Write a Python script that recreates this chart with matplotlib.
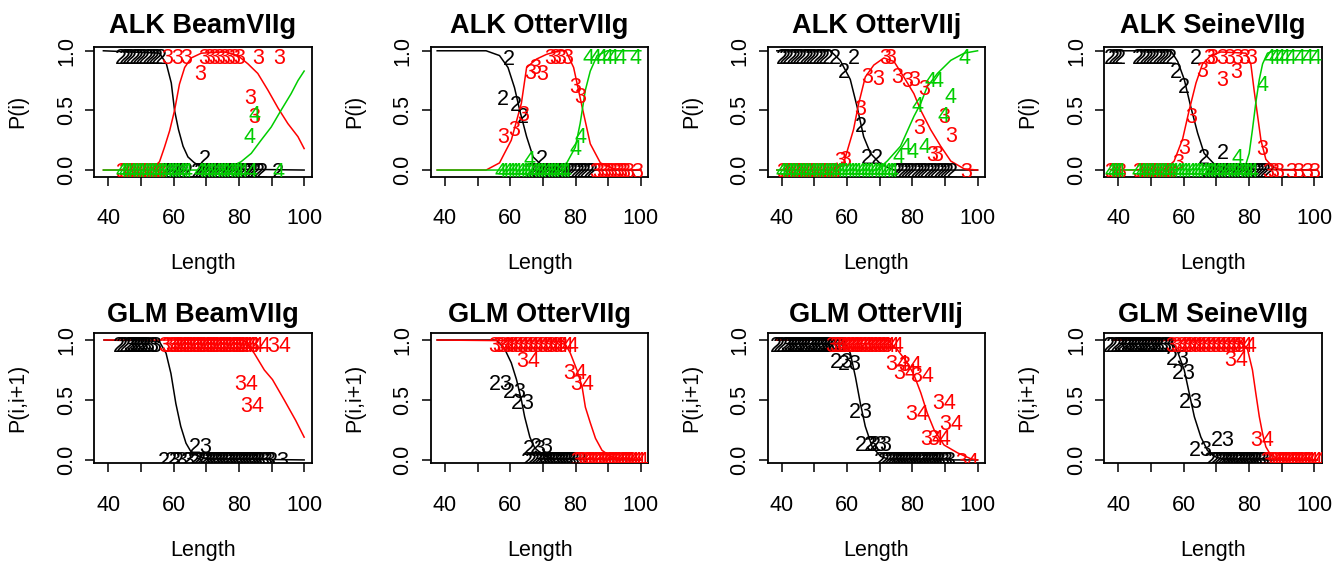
import matplotlib.pyplot as plt

plt.rcParams['font.family'] = ['Liberation Sans', 'DejaVu Sans']

BLACK = 'black'
RED = '#FF0000'
GREEN = '#00CD00'

# ---------------- ALK BeamVIIg ----------------
ab_c2_x = [38.5, 55.7, 57.8, 59.3, 60.3, 61.5, 62.9, 64.4, 66.4, 68.5, 71.5, 100]
ab_c2_y = [1.0, 0.98, 0.89, 0.73, 0.5, 0.34, 0.2, 0.11, 0.06, 0.03, 0.01, 0.0]
ab_c3_x = [38.5, 53, 54.2, 55.7, 57.2, 58.8, 60.3, 61.8, 63.4, 65.4, 68.5, 75.6, 79.7,
           82.8, 85.8, 88.9, 92, 95, 98.1, 100]
ab_c3_y = [0, 0, 0.03, 0.07, 0.19, 0.33, 0.5, 0.72, 0.86, 0.94, 0.98, 0.99, 0.96,
           0.89, 0.81, 0.67, 0.52, 0.39, 0.28, 0.18]
ab_c4_x = [38.5, 75, 77.7, 80.7, 83.8, 86.8, 89.9, 92.9, 96, 98.1, 100]
ab_c4_y = [0, 0, 0.03, 0.07, 0.14, 0.25, 0.36, 0.5, 0.64, 0.75, 0.83]
ab2_top = [44, 45, 46, 47, 48, 49, 50, 51, 52, 53, 54, 55, 56]
ab2_bot = [57, 58, 59, 60, 61, 62, 63, 64, 67, 68, 69, 70, 71, 72, 73, 74, 75, 76, 77,
           78, 79, 80, 81, 82, 83, 84, 85, 86, 87, 92]
ab2_px, ab2_py = [69.6], [0.11]
ab3_top = [58, 61, 64, 69.5, 71, 72.5, 74, 75.5, 77, 78.5, 80, 86, 92.5]
ab3_bot = [44, 45, 46, 47, 48, 49, 50, 51, 52, 53, 54, 55, 56]
ab3_px, ab3_py = [68, 83.4, 84.8], [0.82, 0.625, 0.46]
ab4_top = []
ab4_bot = [44, 45, 46, 47, 48, 49, 50, 51, 52, 53, 54, 55, 56, 57, 58, 59, 60, 61, 62,
           63, 64, 68, 69, 70, 71, 72, 73, 74, 75, 76, 77, 78, 79, 80, 81, 84, 92]
ab4_px, ab4_py = [84.8, 83.4], [0.48, 0.29]

# ---------------- ALK OtterVIIg ----------------
ao_c2_x = [37.6, 52.6, 56.7, 59.3, 61.3, 62.9, 65, 67, 70, 75, 100]
ao_c2_y = [1, 1, 0.96, 0.86, 0.69, 0.5, 0.28, 0.11, 0.03, 0, 0]
ao_c3_x = [37.6, 52.6, 56.7, 60.3, 63.4, 65, 68, 71.1, 75, 77, 79.4, 82, 84.5, 87.6,
           91.8, 100]
ao_c3_y = [0, 0, 0.06, 0.25, 0.56, 0.86, 0.93, 0.97, 1, 1, 0.86, 0.53, 0.22, 0.06,
           0.01, 0]
ao_c4_x = [37.6, 73.2, 77.3, 79.9, 81.4, 83, 84.5, 86.6, 89.7, 100]
ao_c4_y = [0, 0, 0.06, 0.19, 0.39, 0.67, 0.83, 0.96, 1, 1]
ao2_top = []
ao2_bot = [66, 67, 68, 69, 70, 71, 72, 73, 74, 75, 76, 77, 78, 79, 80, 81, 82, 83, 84, 85]
ao2_px = [59.6, 57.7, 61.6, 63.9, 69.6]
ao2_py = [0.95, 0.61, 0.56, 0.46, 0.11]
ao3_top = [72.2, 73.7, 75.3, 77.3]
ao3_bot = [86, 87, 88, 89, 90, 91, 92, 93, 94, 95, 96, 99]
ao3_px = [57.7, 61.3, 64.1, 66, 67.5, 69.9, 79.9, 81.4]
ao3_py = [0.29, 0.35, 0.48, 0.83, 0.875, 0.82, 0.71, 0.63]
ao4_top = [84, 86, 88, 89.7, 91.2, 93.8, 98.5]
ao4_bot = [57, 58, 59, 60, 61, 62, 63, 64, 65, 66, 67, 68, 69, 70, 71, 72, 73, 74, 75,
           76, 77]
ao4_px, ao4_py = [66, 79.9, 81.4], [0.105, 0.19, 0.29]

# ---------------- ALK OtterVIIj ----------------
aj_c2_x = [38.5, 54.9, 57.9, 61, 63.1, 65.1, 67.2, 70.3, 74.4, 100]
aj_c2_y = [1, 1, 0.92, 0.76, 0.53, 0.28, 0.14, 0.05, 0, 0]
aj_c3_x = [38.5, 54.9, 59, 62, 63.6, 65.6, 68.2, 71.3, 74.4, 77.4, 80.5, 82.6, 85.6,
           88.7, 91.8, 95.9, 100]
aj_c3_y = [0, 0, 0.06, 0.34, 0.56, 0.78, 0.88, 0.94, 0.91, 0.78, 0.64, 0.5, 0.34, 0.2,
           0.075, 0.01, 0]
aj_c4_x = [38.5, 69.2, 72.3, 76.4, 80.5, 82.6, 84.6, 87.7, 91.8, 95.9, 100]
aj_c4_y = [0, 0, 0.075, 0.2, 0.45, 0.56, 0.7, 0.81, 0.92, 0.98, 1]
aj2_top = [40, 41, 42, 43, 44, 45, 46, 47, 48, 49, 50, 51, 52, 53, 54, 56.4, 62]
aj2_bot = [75, 76, 77, 78, 79, 80, 81, 82, 83, 84, 85, 86, 87, 88, 89, 90, 91, 92]
aj2_px, aj2_py = [59, 64.1, 66.2, 69.2], [0.84, 0.39, 0.12, 0.12]
aj3_top = [71.8, 73.3]
aj3_bot = [40, 41, 42, 43, 44, 45, 46, 47, 48, 49, 50, 51, 52, 53, 54, 55, 56]
aj3_px = [64.1, 66.2, 69.7, 75.4, 78.5, 80.5, 83.6, 82.1, 89.7, 91.8, 86.2, 87.7, 57.9,
          59.5, 96.4]
aj3_py = [0.53, 0.8, 0.78, 0.8, 0.76, 0.77, 0.7, 0.37, 0.46, 0.3, 0.14, 0.14, 0.09,
          0.1, 0.0]
aj4_top = [95.9]
aj4_bot = [40, 41, 42, 43, 44, 45, 46, 47, 48, 49, 50, 51, 52, 53, 54, 55, 56, 57, 58,
           59, 60, 61, 62, 63, 64, 65, 66, 67, 68, 69, 70, 71, 72, 73, 74]
aj4_px = [81.5, 85.6, 87.7, 91.8, 89.7, 75.9, 77.9, 80, 83.6]
aj4_py = [0.55, 0.76, 0.76, 0.63, 0.47, 0.13, 0.21, 0.17, 0.21]

# ---------------- ALK SeineVIIg ----------------
as_c2_x = [38, 56.1, 58.2, 60.2, 62.2, 64.3, 66.3, 69.4, 73.5, 101]
as_c2_y = [1, 1, 0.91, 0.76, 0.53, 0.31, 0.14, 0.05, 0.01, 0]
as_c3_x = [38, 54.1, 57.1, 59.7, 61.7, 63.8, 65.8, 68.4, 71.4, 79.1, 80.6, 81.6, 82.7,
           83.7, 85.2, 87.2, 89.8, 101]
as_c3_y = [0, 0, 0.075, 0.26, 0.5, 0.73, 0.89, 0.96, 0.99, 0.98, 0.89, 0.67, 0.45, 0.25,
           0.09, 0.03, 0, 0]
as_c4_x = [38, 77.6, 79.1, 80.1, 81.1, 82.1, 83.2, 84.2, 85.7, 87.8, 101]
as_c4_y = [0, 0.01, 0.05, 0.14, 0.34, 0.56, 0.76, 0.89, 0.98, 1, 1]
as2_top = [37.5, 38.5, 39.5, 40.5, 46, 47, 48, 49, 50, 51, 52, 53, 54, 55, 56, 63.8]
as2_bot = [67, 68, 69, 70, 71, 72, 73, 74, 75, 76, 77, 78, 79, 80, 81, 82, 83, 84, 85, 86]
as2_px, as2_py = [57.7, 60.2, 66.3, 71.9], [0.84, 0.71, 0.12, 0.16]
as3_top = [67.9, 68.9, 71.9, 74, 76.5, 78.6, 80.6]
as3_bot = [37.5, 38.5, 39.5, 40.5, 46, 47, 48, 49, 50, 51, 52, 53, 54, 55, 56, 86, 87.5,
           89, 93, 95, 98, 100]
as3_px = [65.8, 71.9, 76, 62.2, 60.2, 58.2, 84.2]
as3_py = [0.85, 0.77, 0.84, 0.46, 0.2, 0.075, 0.19]
as4_top = [86.2, 87.8, 89.3, 90.8, 92.9, 95.4, 98, 100.5]
as4_bot = [37.5, 38.5, 39.5, 40.5, 46, 47, 48, 49, 50, 51, 52, 53, 54, 55, 56, 57, 58,
           59, 60, 61, 62, 63, 64, 65, 66, 67, 68, 69, 70, 71, 72, 73, 74, 75, 76, 77,
           78, 79, 80, 81]
as4_px, as4_py = [84.2, 76.5], [0.73, 0.12]

# ---------------- GLM BeamVIIg ----------------
gb_c23_x = [38.7, 55.6, 57.7, 59.2, 60.7, 62.2, 63.8, 65.3, 68.4, 71.4, 100]
gb_c23_y = [1, 0.99, 0.89, 0.72, 0.47, 0.28, 0.14, 0.07, 0.02, 0.01, 0]
gb_c34_x = [38.7, 81.6, 84.7, 87.8, 90.3, 93.9, 97.4, 100]
gb_c34_y = [1, 1, 0.89, 0.75, 0.67, 0.5, 0.33, 0.19]
gb23_top = [45, 46, 47, 48, 49, 50, 51, 52, 53]
gb23_bot = [59, 61, 63, 66, 68, 69, 70, 71, 72, 73, 74, 75, 76, 77, 78, 79, 80, 81, 82,
            83, 84, 85, 86, 87, 88, 92]
gb23_px, gb23_py = [68.4], [0.125]
gb34_top = [59, 60, 61, 62, 63, 64, 65, 66, 67, 68, 69, 70, 71, 72, 73, 74, 75, 76, 77,
            78, 79, 80, 81, 82, 83, 84, 86.2, 92.3]
gb34_bot = []
gb34_px, gb34_py = [82.1, 84.2], [0.65, 0.47]

# ---------------- GLM OtterVIIg ----------------
go_c23_x = [37.6, 55.7, 58.2, 60.3, 61.9, 63.4, 64.4, 66, 67.5, 70.1, 73.2, 100]
go_c23_y = [1, 1, 0.93, 0.81, 0.67, 0.5, 0.36, 0.19, 0.1, 0.04, 0.01, 0]
go_c34_x = [37.6, 76.3, 78.4, 80.4, 82, 83, 84.5, 86.1, 88.1, 90.7, 94, 100]
go_c34_y = [1, 0.99, 0.89, 0.75, 0.61, 0.44, 0.31, 0.18, 0.08, 0.03, 0.01, 0]
go23_top = []
go23_bot = [67, 68, 69, 70, 71, 72, 73, 74, 75, 76, 77, 78, 79, 80]
go23_px = [57.2, 61.3, 63.9, 67.5, 69.6]
go23_py = [0.65, 0.58, 0.49, 0.11, 0.125]
go34_top = [57, 58, 59.5, 61, 62.5, 64, 65.5, 67, 68.5, 70, 71.5, 73, 74.5, 76, 77.5]
go34_bot = [82, 83, 84, 85, 86, 87, 88, 89, 90, 91, 92, 93, 94, 95, 96, 97, 98, 99]
go34_px, go34_py = [65.5, 79.9, 82], [0.84, 0.74, 0.65]

# ---------------- GLM OtterVIIj ----------------
gj_c23_x = [38.5, 59, 61, 62.6, 64.1, 65.6, 67.7, 70.3, 73.3, 100]
gj_c23_y = [1, 1, 0.89, 0.69, 0.47, 0.28, 0.11, 0.03, 0, 0]
gj_c34_x = [38.5, 72.3, 75.4, 78.5, 80.5, 82.6, 84.6, 86.7, 89.7, 93.8, 97.9, 100]
gj_c34_y = [1, 1, 0.92, 0.81, 0.71, 0.56, 0.39, 0.25, 0.125, 0.06, 0.01, 0]
gj23_top = [40, 41, 42, 43, 44, 45, 46, 47, 48, 49, 50, 51, 52, 53, 54, 55, 56, 57]
gj23_bot = [72, 73, 74, 75, 76, 77, 78, 79, 80, 81, 82, 83, 84, 85, 86, 87, 88, 89, 90]
gj23_px = [58.5, 61, 64.1, 66.2, 68.7, 70.3]
gj23_py = [0.83, 0.82, 0.42, 0.14, 0.14, 0.14]
gj34_top = [57, 58.2, 59.4, 60.6, 61.8, 63, 64.2, 65.4, 66.6, 67.8, 69, 70.2, 71.4,
            72.6, 73.8]
gj34_bot = []
gj34_px = [75.4, 79.5, 77.9, 83.1, 89.7, 81.5, 91.8, 86.2, 88.2, 96.9]
gj34_py = [0.82, 0.81, 0.74, 0.72, 0.49, 0.4, 0.32, 0.19, 0.19, 0.0]

# ---------------- GLM SeineVIIg ----------------
gs_c23_x = [38.3, 56.1, 58.2, 60.2, 61.7, 63.3, 65.3, 67.3, 69.4, 72.4, 101]
gs_c23_y = [1, 1, 0.9, 0.75, 0.56, 0.36, 0.19, 0.08, 0.03, 0, 0]
gs_c34_x = [38.3, 77.6, 79.6, 81.1, 82.1, 83.2, 84.2, 85.2, 86.7, 89.8, 101]
gs_c34_y = [1, 0.99, 0.92, 0.75, 0.56, 0.36, 0.22, 0.11, 0.04, 0, 0]
gs23_top = [39, 40, 41, 42, 43, 44, 45, 46, 47, 48, 49, 50, 51, 52, 53, 54]
gs23_bot = [70, 71, 72, 73, 74, 75, 76, 77, 78, 79, 80, 81, 82, 83, 84]
gs23_px = [58.2, 60.2, 62.2, 65.3, 71.9]
gs23_py = [0.86, 0.74, 0.5, 0.1, 0.18]
gs34_top = [58, 59.5, 61, 62.5, 64, 65.5, 67, 68.5, 70, 71.5, 73, 74.5, 76, 77.5, 79]
gs34_bot = [87, 88, 89, 90, 91, 92, 93, 94, 95, 96, 97, 98, 99, 100]
gs34_px, gs34_py = [76, 84.2], [0.85, 0.18]

# row heights of the label strips at top / bottom
ALK_TOP, ALK_BOT = 0.955, 0.0
GLM_TOP, GLM_BOT = 0.965, 0.005

FS = 15.5
FS_TXT = 15.5
FS_TITLE = 19.5


def draw_series(ax, cx, cy, top, bot, px, py, lab, col, ytop, ybot):
  ax.plot(cx, cy, color=col, lw=1.1)
  pts = [(x, ytop) for x in top] + [(x, ybot) for x in bot] + list(zip(px, py))
  for x, y in pts:
    ax.text(x, y, lab, color=col, fontsize=FS_TXT, ha='center',
            va='center_baseline', clip_on=True)


def style_ax(ax, title, ylabel, ylim, tpad):
  ax.set_xlim(35.7, 102.3)
  ax.set_ylim(*ylim)
  ax.set_xticks([40, 60, 80, 100])
  ax.set_xticks([50, 70, 90], minor=True)
  ax.set_yticks([0, 0.5, 1.0])
  ax.set_yticklabels(['0.0', '0.5', '1.0'], rotation=90, va='center')
  ax.tick_params(which='both', direction='out', length=6.5, width=1.1, labelsize=FS)
  ax.tick_params(axis='x', pad=16)
  ax.tick_params(axis='y', pad=6)
  for s in ax.spines.values():
    s.set_linewidth(1.3)
  ax.set_title(title, fontsize=FS_TITLE, fontweight='bold', pad=tpad)
  ax.set_xlabel('Length', fontsize=FS)
  ax.xaxis.set_label_coords(0.5, -0.67)
  ax.xaxis.label.set_va('center')
  ax.set_ylabel(ylabel, fontsize=FS)
  ax.yaxis.set_label_coords(-0.35, 0.5)
  ax.yaxis.label.set_va('center')


fig = plt.figure(figsize=(13.33, 5.63), dpi=100)
lefts = [0.0707, 0.3233, 0.5759, 0.8284]
W, H = 0.1631, 0.2309
TOP_B, BOT_B = 0.6861, 0.1771

alk = [
  ('ALK BeamVIIg',
   [(ab_c2_x, ab_c2_y, ab2_top, ab2_bot, ab2_px, ab2_py, '2', BLACK),
    (ab_c3_x, ab_c3_y, ab3_top, ab3_bot, ab3_px, ab3_py, '3', RED),
    (ab_c4_x, ab_c4_y, ab4_top, ab4_bot, ab4_px, ab4_py, '4', GREEN)]),
  ('ALK OtterVIIg',
   [(ao_c2_x, ao_c2_y, ao2_top, ao2_bot, ao2_px, ao2_py, '2', BLACK),
    (ao_c3_x, ao_c3_y, ao3_top, ao3_bot, ao3_px, ao3_py, '3', RED),
    (ao_c4_x, ao_c4_y, ao4_top, ao4_bot, ao4_px, ao4_py, '4', GREEN)]),
  ('ALK OtterVIIj',
   [(aj_c2_x, aj_c2_y, aj2_top, aj2_bot, aj2_px, aj2_py, '2', BLACK),
    (aj_c3_x, aj_c3_y, aj3_top, aj3_bot, aj3_px, aj3_py, '3', RED),
    (aj_c4_x, aj_c4_y, aj4_top, aj4_bot, aj4_px, aj4_py, '4', GREEN)]),
  ('ALK SeineVIIg',
   [(as_c2_x, as_c2_y, as2_top, as2_bot, as2_px, as2_py, '2', BLACK),
    (as_c3_x, as_c3_y, as3_top, as3_bot, as3_px, as3_py, '3', RED),
    (as_c4_x, as_c4_y, as4_top, as4_bot, as4_px, as4_py, '4', GREEN)]),
]
glm = [
  ('GLM BeamVIIg',
   [(gb_c23_x, gb_c23_y, gb23_top, gb23_bot, gb23_px, gb23_py, '23', BLACK),
    (gb_c34_x, gb_c34_y, gb34_top, gb34_bot, gb34_px, gb34_py, '34', RED)]),
  ('GLM OtterVIIg',
   [(go_c23_x, go_c23_y, go23_top, go23_bot, go23_px, go23_py, '23', BLACK),
    (go_c34_x, go_c34_y, go34_top, go34_bot, go34_px, go34_py, '34', RED)]),
  ('GLM OtterVIIj',
   [(gj_c23_x, gj_c23_y, gj23_top, gj23_bot, gj23_px, gj23_py, '23', BLACK),
    (gj_c34_x, gj_c34_y, gj34_top, gj34_bot, gj34_px, gj34_py, '34', RED)]),
  ('GLM SeineVIIg',
   [(gs_c23_x, gs_c23_y, gs23_top, gs23_bot, gs23_px, gs23_py, '23', BLACK),
    (gs_c34_x, gs_c34_y, gs34_top, gs34_bot, gs34_px, gs34_py, '34', RED)]),
]

for i, (title, series) in enumerate(alk):
  ax = fig.add_axes([lefts[i], TOP_B, W, H])
  for cx, cy, top, bot, px, py, lab, col in series:
    draw_series(ax, cx, cy, top, bot, px, py, lab, col, ALK_TOP, ALK_BOT)
  style_ax(ax, title, 'P(i)', (-0.056, 1.034), 10)

for i, (title, series) in enumerate(glm):
  ax = fig.add_axes([lefts[i], BOT_B, W, H])
  for cx, cy, top, bot, px, py, lab, col in series:
    draw_series(ax, cx, cy, top, bot, px, py, lab, col, GLM_TOP, GLM_BOT)
  style_ax(ax, title, 'P(i,i+1)', (-0.028, 1.056), 8)

fig.savefig('out.png', dpi=100)
